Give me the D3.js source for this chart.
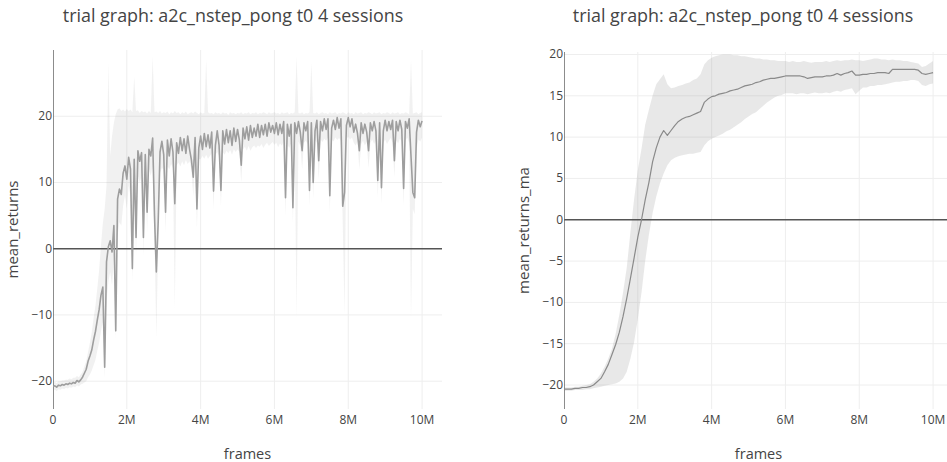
<!DOCTYPE html>
<html>
<head>
<meta charset="utf-8">
<script src="https://cdn.jsdelivr.net/npm/d3@7"></script>
<style>
  body { margin: 0; background: #fff; }
  text { font-family: "Open Sans", sans-serif; fill: #444; }
</style>
</head>
<body>
<svg id="chart" width="947" height="462"></svg>
<script>
var title = 'trial graph: a2c_nstep_pong t0 4 sessions'
var xTicks = [0, 2e6, 4e6, 6e6, 8e6, 10e6]
var xTickLabels = ['0', '2M', '4M', '6M', '8M', '10M']
var rawYTicks = [-20, -10, 0, 10, 20]
var maYTicks = [-20, -15, -10, -5, 0, 5, 10, 15, 20]

// checkpoints: raw every 50k frames, moving average every 100k frames
var rawStep = 5e4
var maStep = 1e5

var rawMean = [
  -20.8,-20.7,-20.9,-20.6,-20.7,-20.5,-20.6,-20.4,-20.5,-20.3,-20.4,-20.2,-20.3,-19.9,-20.1,-19.8,
  -19.4,-18.8,-18.2,-17.0,-16.2,-15.3,-13.8,-12.5,-10.8,-9.2,-7.0,-5.8,-17.9,-2.0,
  0.3,1.2,-0.5,3.5,-12.4,7.5,9.0,8.2,11.4,12.5,
  10.5,13.8,12.0,-3.0,13.5,1.7,14.8,13.2,14.5,1.7,
  14.2,5.5,15.0,14.0,16.7,5.0,-3.5,4.0,14.6,16.2,
  14.2,5.5,16.4,14.0,16.6,14.6,6.8,16.0,14.4,16.8,
  14.8,16.6,14.4,17.0,15.0,13.4,10.8,16.8,6.0,15.2,
  17.0,15.0,17.4,15.4,17.2,15.2,17.6,8.7,15.6,17.8,
  15.6,8.8,17.8,15.8,18.0,16.0,17.8,15.6,18.2,16.2,
  18.0,16.4,12.6,18.2,16.6,18.4,16.4,18.6,16.8,18.2,
  17.0,18.8,16.8,18.6,17.2,18.8,17.0,19.0,17.6,18.6,
  17.4,19.0,17.2,18.8,17.4,19.2,7.7,18.8,17.0,18.8,
  6.2,19.0,17.4,19.2,17.6,14.8,19.0,17.8,19.2,8.8,
  19.0,10.0,17.8,19.4,13.3,19.2,17.8,19.6,18.0,19.6,
  8.0,18.2,19.4,18.0,19.8,18.2,19.6,6.4,8.5,18.6,
  19.8,18.4,19.6,17.6,18.8,17.4,14.8,19.0,17.4,18.8,
  17.6,14.8,19.0,17.8,19.2,17.8,10.3,19.0,9.2,17.8,
  19.4,17.8,19.2,18.0,19.4,13.3,19.2,17.8,19.4,18.0,
  9.1,19.2,18.2,19.6,14.0,8.5,7.7,17.6,19.4,18.4,
  19.3
]
var rawUpper = [
  -20.2,-20.1,-20.3,-20.0,-20.0,-19.9,-19.9,-19.8,-19.8,-19.6,-19.7,-19.5,-19.5,-19.2,-19.4,-19.0,
  -18.6,-17.8,-17.0,-15.6,-14.2,-12.6,-10.5,-8.6,-6.0,-3.2,0.5,3.8,6.0,9.5,
  28.0,14.0,17.0,19.0,20.3,21.0,21.2,20.8,21.0,20.7,
  21.1,20.8,21.0,20.6,26.0,20.8,20.9,20.5,20.8,20.6,
  20.7,20.4,20.8,20.5,29.0,20.6,20.7,20.5,20.8,20.4,
  20.6,20.5,20.7,20.3,20.6,20.4,20.8,20.5,20.6,20.3,
  20.6,20.4,20.7,20.3,20.5,20.6,20.4,20.7,20.5,20.3,
  20.6,20.4,20.5,28.5,20.6,20.4,20.5,20.3,20.6,20.4,
  20.5,20.3,20.6,20.4,20.5,20.2,20.6,20.4,20.5,20.3,
  20.5,20.4,20.6,20.3,20.5,20.4,20.6,20.3,20.5,20.4,
  20.6,20.3,20.5,20.4,20.6,20.5,20.3,20.6,20.4,20.5,
  20.6,20.4,20.5,20.3,20.6,20.4,20.5,20.6,20.3,20.5,
  20.4,20.6,29.0,20.5,20.4,20.6,20.3,20.5,20.4,20.6,
  28.0,20.5,20.4,20.6,20.3,20.5,20.6,20.4,20.5,20.3,
  20.6,20.4,20.5,20.6,20.3,20.5,20.4,20.6,20.5,20.3,
  20.6,20.4,20.5,20.3,20.6,20.4,20.5,20.6,20.3,20.5,
  20.4,20.6,20.5,20.3,20.6,20.4,20.5,20.6,20.3,20.5,
  20.4,20.6,20.5,20.3,20.6,20.4,20.5,20.6,20.3,20.5,
  20.4,20.6,20.5,20.3,28.5,20.4,20.5,20.6,20.3,20.5,
  20.6
]
var rawLower = [
  -21.4,-21.3,-21.5,-21.2,-21.3,-21.1,-21.2,-21.0,-21.1,-20.9,-21.0,-20.8,-20.9,-20.6,-20.8,-20.5,
  -20.4,-20.2,-20.0,-19.4,-19.0,-18.4,-17.6,-16.8,-15.4,-14.2,-12.5,-11.0,-19.5,-8.0,
  -5.0,-3.5,-5.5,-1.5,-13.5,2.0,4.0,3.5,6.5,8.0,
  6.0,9.5,8.0,-5.0,9.5,-1.0,11.0,10.0,11.0,-1.0,
  11.0,2.5,12.0,11.0,12.5,2.0,-13.5,1.0,11.5,12.2,
  12.0,2.5,12.5,12.0,12.8,12.2,-9.0,12.6,13.0,12.4,
  13.2,12.6,13.4,12.8,13.2,12.0,8.0,13.5,3.0,13.6,
  13.5,14.0,13.6,14.2,13.6,14.0,14.4,6.0,14.2,14.6,
  14.0,6.5,14.6,14.2,14.8,14.4,14.9,14.2,15.0,14.6,
  15.0,14.6,10.0,15.0,15.4,14.8,15.5,14.8,15.3,15.6,
  15.2,15.6,15.4,15.8,15.2,15.7,16.0,15.5,15.8,16.1,
  15.7,16.0,15.3,15.9,15.6,16.2,5.0,15.8,15.2,15.9,
  4.0,16.0,-10.5,16.2,15.6,12.0,16.0,16.3,15.8,6.5,
  16.2,7.5,16.4,16.0,10.5,16.5,16.1,16.6,16.3,16.8,
  5.5,16.5,16.2,16.8,16.4,16.7,16.3,4.0,-10.0,16.6,
  16.9,16.5,16.8,16.0,15.6,16.1,12.0,15.8,16.3,15.6,
  16.1,12.2,16.0,16.5,15.8,16.3,7.8,16.1,6.8,16.0,
  16.5,15.8,16.3,16.7,16.0,10.8,16.4,15.9,16.6,16.1,
  6.5,16.3,16.8,16.0,-10.5,6.0,5.2,15.0,16.5,16.2,
  16.8
]

var maMean = [
  -20.5,-20.5,-20.5,-20.4,-20.4,-20.3,-20.3,-20.2,-20.0,-19.6,
  -19.2,-18.4,-17.5,-16.3,-15.1,-13.6,-11.7,-9.5,-7.1,-4.6,
  -2.1,0.0,2.4,4.5,7.0,8.7,10.0,10.8,10.2,10.8,
  11.4,11.9,12.2,12.4,12.5,12.7,12.9,13.1,14.2,14.6,
  14.9,15.0,15.2,15.3,15.4,15.6,15.7,15.8,16.0,16.2,
  16.3,16.4,16.6,16.7,16.9,17.0,17.1,17.1,17.2,17.3,
  17.4,17.4,17.4,17.4,17.4,17.3,17.1,17.2,17.3,17.3,
  17.3,17.4,17.4,17.5,17.7,17.5,17.7,17.8,18.0,17.5,
  17.5,17.6,17.6,17.7,17.7,17.8,17.8,17.8,17.7,18.2,
  18.2,18.2,18.2,18.2,18.2,18.2,18.1,17.7,17.6,17.7,
  17.8
]
var maUpper = [
  -20.3,-20.3,-20.3,-20.2,-20.2,-20.1,-20.0,-19.9,-19.6,-19.2,
  -18.6,-17.8,-16.8,-15.6,-13.8,-11.5,-8.8,-5.8,-1.5,2.5,
  6.0,8.6,11.5,13.3,15.0,16.4,17.0,17.6,16.4,15.9,
  16.0,16.2,16.3,16.5,16.6,16.9,17.1,17.6,18.8,19.3,
  19.6,19.8,19.9,20.0,20.0,20.0,19.9,19.9,19.8,19.8,
  19.7,19.6,19.5,19.5,19.4,19.4,19.3,19.3,19.2,19.2,
  19.2,19.1,19.2,19.1,19.1,19.2,19.1,19.0,19.1,19.1,
  19.1,19.2,19.1,19.2,19.3,19.2,19.3,19.3,19.4,19.3,
  19.3,19.2,19.3,19.4,19.5,19.5,19.4,19.4,19.3,19.4,
  19.3,19.3,19.2,19.2,19.1,19.0,18.9,18.5,18.6,18.9,
  19.2
]
var maLower = [
  -20.7,-20.7,-20.7,-20.6,-20.6,-20.6,-20.5,-20.5,-20.4,-20.3,
  -20.2,-20.1,-20.0,-19.9,-19.8,-19.6,-19.2,-18.4,-16.8,-14.8,
  -12.0,-8.8,-5.0,-1.8,0.8,2.8,4.4,5.6,6.6,7.2,
  7.5,7.7,7.8,7.9,8.0,8.0,8.1,8.2,9.0,9.5,
  9.8,10.0,10.2,10.4,10.7,10.9,11.2,11.5,11.8,12.2,
  12.5,12.8,13.0,13.4,13.8,14.2,14.5,14.8,15.0,15.1,
  15.3,15.3,15.3,15.2,15.3,15.3,15.2,15.3,15.4,15.3,
  15.3,15.4,15.3,15.5,15.6,15.5,15.7,15.8,15.9,15.2,
  15.6,16.0,16.0,16.2,16.2,16.3,16.3,16.4,16.5,16.6,
  16.7,16.7,16.8,16.8,16.9,16.9,16.8,16.3,16.2,16.4,
  16.5
]

var panels = [
  { left: 53, right: 442, top: 50, bottom: 409, xMax: 10.54e6, yDomain: [-24.2, 30],
    yTicks: rawYTicks, mean: rawMean, upper: rawUpper, lower: rawLower, step: rawStep,
    ylabel: 'mean_returns', labelX: 13, titleX: 233,
    bandFill: 'rgba(150,150,150,0.13)', lineColor: '#9e9e9e', lineWidth: 1.6 },
  { left: 564, right: 953, top: 52, bottom: 409, xMax: 10.54e6, yDomain: [-22.9, 20.3],
    yTicks: maYTicks, mean: maMean, upper: maUpper, lower: maLower, step: maStep,
    ylabel: 'mean_returns_ma', labelX: 524, titleX: 743,
    bandFill: 'rgba(150,150,150,0.22)', lineColor: '#8a8a8a', lineWidth: 1.2 }
]

var svg = d3.select('#chart')

panels.forEach(function(p, k) {
  var x = d3.scaleLinear().domain([0, p.xMax]).range([p.left, p.right])
  var y = d3.scaleLinear().domain(p.yDomain).range([p.bottom, p.top])

  var g = svg.append('g').attr('class', 'panel' + k)

  var clipId = 'clip' + k
  g.append('clipPath').attr('id', clipId)
    .append('rect')
    .attr('x', p.left).attr('y', p.top)
    .attr('width', p.right - p.left).attr('height', p.bottom - p.top)

  // grid
  g.selectAll('.xgrid')
    .data(xTicks.filter(function(d) { return d != 0 }))
    .enter().append('line')
    .attr('x1', function(d) { return x(d) }).attr('x2', function(d) { return x(d) })
    .attr('y1', p.top).attr('y2', p.bottom)
    .attr('stroke', '#eeeeee').attr('stroke-width', 1)
  g.selectAll('.ygrid')
    .data(p.yTicks.filter(function(d) { return d != 0 }))
    .enter().append('line')
    .attr('x1', p.left).attr('x2', p.right)
    .attr('y1', function(d) { return y(d) }).attr('y2', function(d) { return y(d) })
    .attr('stroke', '#eeeeee').attr('stroke-width', 1)

  var rows = p.mean.map(function(v, i) {
    return { frame: i * p.step, mean: v, upper: p.upper[i], lower: p.lower[i] }
  })

  var band = d3.area()
    .x(function(d) { return x(d.frame) })
    .y0(function(d) { return y(d.lower) })
    .y1(function(d) { return y(d.upper) })

  var line = d3.line()
    .x(function(d) { return x(d.frame) })
    .y(function(d) { return y(d.mean) })

  var plot = g.append('g').attr('clip-path', 'url(#' + clipId + ')')

  plot.append('path')
    .datum(rows)
    .attr('d', band)
    .attr('fill', p.bandFill)
    .attr('stroke', 'none')

  // zero lines
  plot.append('line')
    .attr('x1', p.left).attr('x2', p.right)
    .attr('y1', y(0)).attr('y2', y(0))
    .attr('stroke', '#555').attr('stroke-width', 1.5)
  plot.append('line')
    .attr('x1', x(0)).attr('x2', x(0))
    .attr('y1', p.top).attr('y2', p.bottom)
    .attr('stroke', '#666').attr('stroke-width', 1.5)

  plot.append('path')
    .datum(rows)
    .attr('d', line)
    .attr('fill', 'none')
    .attr('stroke', p.lineColor)
    .attr('stroke-width', p.lineWidth)
    .attr('stroke-linejoin', 'round')

  // tick labels
  g.selectAll('.xlab')
    .data(xTicks)
    .enter().append('text')
    .attr('x', function(d) { return x(d) })
    .attr('y', p.bottom + 15)
    .attr('text-anchor', 'middle')
    .style('font-size', '12px')
    .text(function(d, i) { return xTickLabels[i] })

  g.selectAll('.ylab')
    .data(p.yTicks)
    .enter().append('text')
    .attr('x', p.left - 1)
    .attr('y', function(d) { return y(d) + 4 })
    .attr('text-anchor', 'end')
    .style('font-size', '12px')
    .text(function(d) { return d3.format('d')(d) })

  // axis titles
  g.append('text')
    .attr('x', (p.left + p.right) / 2)
    .attr('y', 459)
    .attr('text-anchor', 'middle')
    .style('font-size', '14.5px')
    .text('frames')

  g.append('text')
    .attr('transform', 'translate(' + p.labelX + ',' + (p.top + p.bottom) / 2 + ') rotate(-90)')
    .attr('dy', '0.35em')
    .attr('text-anchor', 'middle')
    .style('font-size', '15px')
    .text(p.ylabel)

  g.append('text')
    .attr('x', p.titleX)
    .attr('y', 22)
    .attr('text-anchor', 'middle')
    .style('font-size', '17.9px')
    .text(title)
})
</script>
</body>
</html>
